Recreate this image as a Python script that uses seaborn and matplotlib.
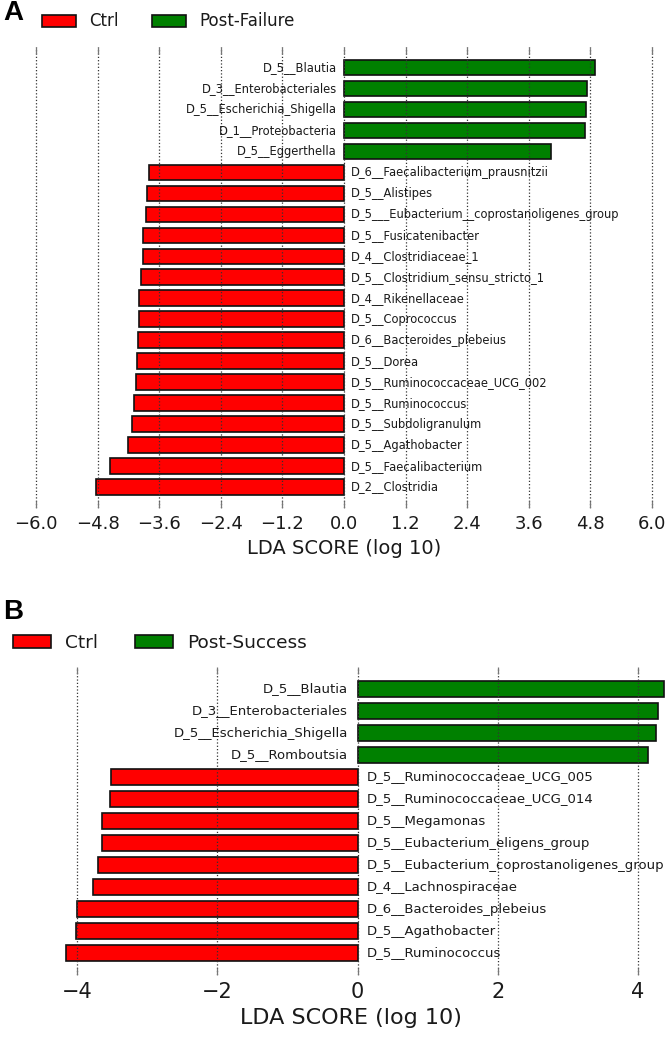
import numpy as np
import pandas as pd
import matplotlib
matplotlib.use('Agg')
import matplotlib.pyplot as plt
from matplotlib.patches import Patch
from matplotlib.ticker import FixedLocator, FuncFormatter
import seaborn as sns

# ── data ────────────────────────────────────────────────────────────────
taxa_a = [
    'D_5__Blautia', 'D_3__Enterobacteriales', 'D_5__Escherichia_Shigella',
    'D_1__Proteobacteria', 'D_5__Eggerthella',
    'D_6__Faecalibacterium_prausnitzii', 'D_5__Alistipes',
    'D_5___Eubacterium__coprostanoligenes_group', 'D_5__Fusicatenibacter',
    'D_4__Clostridiaceae_1', 'D_5__Clostridium_sensu_stricto_1',
    'D_4__Rikenellaceae', 'D_5__Coprococcus', 'D_6__Bacteroides_plebeius',
    'D_5__Dorea', 'D_5__Ruminococcaceae_UCG_002', 'D_5__Ruminococcus',
    'D_5__Subdoligranulum', 'D_5__Agathobacter', 'D_5__Faecalibacterium',
    'D_2__Clostridia',
]
lda_a = [4.90, 4.73, 4.71, 4.69, 4.04,
         -3.81, -3.84, -3.86, -3.91, -3.92, -3.95, -3.99, -4.00, -4.01,
         -4.03, -4.05, -4.10, -4.14, -4.21, -4.56, -4.84]
ticks_a = [-6.0, -4.8, -3.6, -2.4, -1.2, 0.0, 1.2, 2.4, 3.6, 4.8, 6.0]

taxa_b = [
    'D_5__Blautia', 'D_3__Enterobacteriales', 'D_5__Escherichia_Shigella',
    'D_5__Romboutsia', 'D_5__Ruminococcaceae_UCG_005',
    'D_5__Ruminococcaceae_UCG_014', 'D_5__Megamonas',
    'D_5__Eubacterium_eligens_group',
    'D_5__Eubacterium_coprostanoligenes_group', 'D_4__Lachnospiraceae',
    'D_6__Bacteroides_plebeius', 'D_5__Agathobacter', 'D_5__Ruminococcus',
]
lda_b = [4.37, 4.28, 4.26, 4.15,
         -3.52, -3.53, -3.64, -3.65, -3.70, -3.78, -4.00, -4.02, -4.16]
ticks_b = [-4, -2, 0, 2, 4]

CTRL_COLOR = '#ff0000'
CASE_COLOR = '#008000'

W, H = 668, 1038
fig = plt.figure(figsize=(W / 100, H / 100), dpi=100)


def px_axes(x0, x1, y0, y1):
    # pixel box (top-left origin) -> figure axes
    return fig.add_axes([x0 / W, 1 - y1 / H, (x1 - x0) / W, (y1 - y0) / H])


def lefse_panel(ax, taxa, lda, case, xlim, ticks, fmt, lab_fs, tick_fs,
                xlab_fs, lab_off):
    df = pd.DataFrame({'taxon': taxa, 'lda': lda})
    df['group'] = np.where(df['lda'] > 0, case, 'Ctrl')
    sns.barplot(data=df, x='lda', y='taxon', hue='group', order=taxa,
                hue_order=['Ctrl', case], dodge=False, width=0.74,
                saturation=1,
                palette={'Ctrl': CTRL_COLOR, case: CASE_COLOR},
                edgecolor='#111111', linewidth=1.2, legend=False, ax=ax)
    n = len(taxa)
    ax.set_ylim(n, -1)
    ax.set_xlim(*xlim)
    for s in ax.spines.values():
        s.set_visible(False)
    ax.set_ylabel('')
    ax.set_yticks([])
    ax.xaxis.set_major_locator(FixedLocator(ticks))
    ax.xaxis.set_major_formatter(
        FuncFormatter(lambda x, p: fmt.format(x).replace('-', '\u2212')))
    ax.tick_params(axis='x', direction='in', top=True, bottom=True,
                   length=5, width=0.9, color='#777777', pad=5,
                   labelsize=tick_fs, labelcolor='#1a1a1a')
    ax.grid(axis='x', linestyle=':', color='#333333', lw=0.9)
    ax.set_axisbelow(False)
    ax.set_xlabel('LDA SCORE (log 10)', fontsize=xlab_fs, color='#1a1a1a',
                  labelpad=4)
    for i, (t, v) in enumerate(zip(taxa, lda)):
        off = -lab_off if v > 0 else lab_off
        ax.annotate(t, xy=(0, i), xytext=(off, 0), textcoords='offset points',
                    ha='right' if v > 0 else 'left', va='center',
                    fontsize=lab_fs, color='#1a1a1a')


def add_legend(case, x, y, fs):
    handles = [Patch(facecolor=CTRL_COLOR, edgecolor='#111111', lw=1.2),
               Patch(facecolor=CASE_COLOR, edgecolor='#111111', lw=1.2)]
    fig.legend(handles, ['Ctrl', case], ncol=2, frameon=False,
               loc='center left', bbox_to_anchor=(x / W, 1 - y / H),
               borderaxespad=0, borderpad=0, fontsize=fs,
               handlelength=2.05, handleheight=0.72, handletextpad=0.78,
               columnspacing=2.0, labelcolor='#1a1a1a')


# ── panel A ─────────────────────────────────────────────────────────────
ax_a = px_axes(344 - 6.1 * 51.3, 344 + 6.1 * 51.3, 46.5, 508)
lefse_panel(ax_a, taxa_a, lda_a, 'Post-Failure', (-6.1, 6.1), ticks_a,
            '{:.1f}', 8.3, 13, 14, 5)
add_legend('Post-Failure', 42, 21.5, 12)
fig.text(3 / W, 1 - 13 / H, 'A', fontsize=20, fontweight='bold',
         family='Liberation Sans', va='center', ha='left')

# ── panel B ─────────────────────────────────────────────────────────────
ax_b = px_axes(357.5 - 4.6 * 70.1, 357.5 + 4.4 * 70.1, 667, 975)
lefse_panel(ax_b, taxa_b, lda_b, 'Post-Success', (-4.6, 4.4), ticks_b,
            '{:.0f}', 9.5, 15, 16, 7)
add_legend('Post-Success', 13, 643, 13.3)
fig.text(3 / W, 1 - 612 / H, 'B', fontsize=20, fontweight='bold',
         family='Liberation Sans', va='center', ha='left')

fig.savefig('out.png', dpi=100)
